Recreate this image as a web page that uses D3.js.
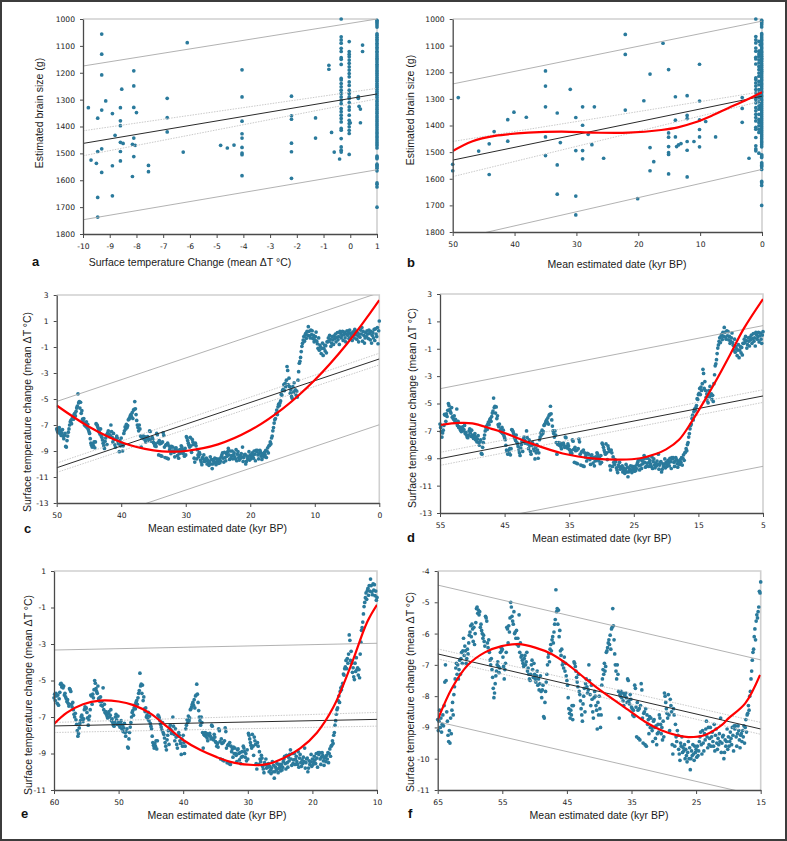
<!DOCTYPE html>
<html><head><meta charset="utf-8">
<script src="https://cdn.jsdelivr.net/npm/d3@7"></script>
<style>body{margin:0;background:#fff}svg{display:block}</style>
</head><body>
<svg id="chart" width="787" height="841"></svg>
<script>
// ---------------- DATA ----------------
// Panel a: scattered specimens [temperature change, brain size]
const brainByTemp = [
 [-9.8,1330],[-9.7,1525],[-9.45,1369],[-9.45,1493],[-9.5,1537],[-9.45,1664],[-9.45,1737],[-9.3,1056],[-9.3,1131],[-9.3,1208],
 [-9.3,1339],[-9.3,1483],[-9.3,1571],[-9.15,1305],[-8.9,1352],[-8.8,1433],[-8.9,1546],[-8.9,1658],[-8.55,1261],[-8.6,1330],
 [-8.6,1379],[-8.6,1397],[-8.6,1459],[-8.5,1463],[-8.6,1493],[-8.6,1528],[-8.1,1193],[-8.1,1249],[-8.1,1329],[-8.1,1443],
 [-8.1,1512],[-8.0,1348],[-8.15,1466],[-8.05,1470],[-8.15,1586],[-7.55,1545],[-7.55,1568],[-6.85,1295],[-6.85,1367],[-6.85,1420],
 [-6.25,1495],[-6.1,1088],[-4.85,1470],[-4.6,1480],[-4.35,1469],[-4.05,1189],[-4.05,1290],[-4.05,1380],[-4.05,1427],[-4.05,1443],
 [-4.05,1478],[-4.05,1499],[-4.05,1505],[-4.05,1583],[-2.2,1287],[-2.2,1360],[-2.2,1373],[-2.2,1462],[-2.2,1494],[-2.2,1593],
 [-1.3,1368],[-1.3,1443],[-0.8,1172],[-0.8,1187],[-0.7,1422],[-0.6,1495],[-0.4,1521],[0.0,1386],
 [0.3,1289],[0.3,1295],[0.33,1325],[0.38,1335],[0.38,1386],[0.46,1097],[0.46,1121]
];
// Panel b: scattered specimens [date kyr BP, brain size]
const brainByDate = [
 [50,1546],[50,1570],[49.1,1295],[45.8,1496],[44.1,1469],[44.1,1584],[43.3,1423],[41.1,1378],[41.1,1459],[40.1,1350],
 [38.1,1369],[35,1195],[35,1252],[35,1330],[35,1443],[35,1513],[33.1,1353],[33.1,1548],[33.1,1658],[32.6,1464],
 [31,1264],[30.1,1370],[30.1,1494],[30.1,1665],[30.1,1736],[29,1330],[29,1399],[29,1494],[29,1525],[28.1,1433],
 [27.5,1472],[27.1,1330],[25.6,1523],[22.1,1058],[22.1,1133],[22.1,1342],[20.1,1675],[19.1,1307],[18.1,1207],[18.1,1483],
 [18.1,1570],[17.5,1536],[16,1091],[15.1,1190],[15.1,1428],[15.1,1444],[15.1,1479],[15.1,1502],[15.1,1509],[15.1,1582],
 [14,1292],[14,1380],[14,1443],[13.8,1479],[13.5,1473],[13.1,1468],[12.1,1288],[12.1,1362],[12.1,1374],[12.1,1460],
 [12.1,1493],[12.1,1593],[11,1460],[10.1,1170],[10.1,1308],[10.1,1379],[10.1,1415],[10.1,1443],[10.1,1480],[9.1,1385],
 [7.5,1443],[3.2,1295],[3.2,1336],[3.2,1388],[2.1,1523],
 [0.3,1289],[0.3,1295],[0.3,1325],[0.3,1335],[0.3,1386],[0.3,1097],[0.3,1121]
];
// Modern specimen groups (shared by panels a and b)
const modernTemps = [-0.34, -0.04, 1];
const modernDates = [1.0, 0.5, 0.05];
const modernBrains = [
 [1000,1066,1078,1090,1109,1121,1144,1150,1169,1221,1227,1240,1252,1265,1277,1290,1302,1315,1333,1345,1358,1370,1383,1407,1414,1445,1476,1488,1495],
 [1084,1121,1131,1140,1153,1165,1178,1190,1203,1215,1234,1247,1265,1277,1290,1296,1311,1327,1339,1358,1377,1389,1401,1414,1426,1504],
 [1005,1010,1015,1022,1030,1055,1060,1068,1075,1082,1090,1097,1105,1112,1120,1126,1133,1140,1147,1153,1160,1168,1175,1182,1190,1196,
  1203,1210,1218,1225,1232,1240,1247,1254,1262,1270,1277,1285,1292,1300,1307,1315,1322,1330,1337,1345,1352,1360,1367,1375,1382,1390,
  1397,1405,1412,1420,1427,1435,1442,1450,1458,1465,1472,1480,1510,1515,1520,1540,1545,1550,1555,1565,1610,1615,1625,1700]
];

// Temperature record: 10 readings per kyr, from 65 kyr BP (oldest) toward present
const tempStartKyr = 65;
const tempByKyr = [
 [-8.75,-9.1,-8.8,-8.45,-9.0,-8.7,-9.15,-8.9,-8.6,-8.95],   // 65
 [-8.3,-7.55,-7.0,-7.5,-8.5,-8.8,-9.25,-9.45,-9.1,-9.5],    // 64
 [-8.7,-9.2,-8.45,-8.2,-8.6,-7.95,-7.7,-7.45,-7.1,-6.95],   // 63
 [-7.3,-7.0,-7.45,-7.15,-6.85,-7.3,-6.8,-6.6,-6.95,-6.55],  // 62
 [-6.15,-6.7,-6.4,-6.55,-6.95,-6.8,-6.5,-6.65,-6.3,-6.05],  // 61
 [-5.95,-5.75,-6.1,-5.7,-5.85,-6.25,-5.8,-6.35,-6.0,-5.65], // 60
 [-5.2,-5.15,-5.35,-5.25,-5.4,-5.3,-5.8,-5.7,-5.9,-6.0],    // 59
 [-6.15,-6.05,-6.25,-6.4,-5.45,-5.5,-5.6,-6.3,-6.45,-6.2],  // 58
 [-6.6,-6.85,-7.0,-6.8,-7.15,-7.4,-7.75,-8.05,-7.9,-7.6],   // 57
 [-7.35,-7.2,-7.0,-6.9,-7.05,-7.25,-7.1,-6.6,-6.45,-6.55],  // 56
 [-6.5,-6.75,-7.05,-7.45,-7.15,-6.95,-6.6,-5.8,-5.85,-6.3], // 55
 [-5.75,-5.95,-5.5,-5.0,-5.15,-5.45,-5.6,-5.7,-5.3,-6.0],   // 54
 [-5.95,-6.15,-5.9,-6.35,-6.15,-6.4,-5.4,-6.6,-6.3,-6.75],  // 53
 [-6.7,-6.85,-6.95,-7.05,-6.8,-6.7,-7.0,-6.9,-6.6,-7.2],    // 52
 [-7.1,-7.3,-7.45,-7.5,-7.3,-7.0,-6.85,-7.15,-7.4,-6.95],   // 51
 [-7.3,-7.45,-7.55,-7.35,-7.2,-7.65,-7.45,-7.8,-7.6,-7.35], // 50
 [-7.85,-8.05,-7.8,-7.65,-8.65,-8.7,-8.2,-7.85,-7.55,-7.3], // 49
 [-7.0,-6.75,-6.65,-6.9,-6.5,-6.35,-6.55,-6.2,-6.1,-6.3],   // 48
 [-5.95,-5.7,-5.55,-4.6,-5.3,-5.2,-5.7,-5.25,-6.1,-5.9],    // 47
 [-6.55,-6.7,-6.5,-7.0,-6.9,-7.1,-6.75,-7.2,-6.95,-7.35],   // 46
 [-7.5,-7.65,-8.05,-8.4,-8.55,-8.7,-8.45,-8.6,-8.3,-8.75],  // 45
 [-8.3,-6.9,-6.95,-7.05,-7.2,-7.4,-7.55,-7.7,-7.3,-7.85],   // 44
 [-7.95,-8.15,-8.4,-8.6,-8.8,-8.25,-8.0,-7.75,-8.5,-7.6],   // 43
 [-7.45,-7.7,-7.9,-7.8,-7.0,-7.5,-7.95,-8.3,-7.65,-8.1],    // 42
 [-8.5,-8.7,-8.05,-7.85,-8.0,-8.3,-8.45,-9.05,-8.2,-8.6],   // 41
 [-8.0,-8.4,-9.0,-8.6,-7.65,-7.45,-7.15,-7.3,-6.95,-7.2],   // 40
 [-7.05,-6.6,-6.55,-6.45,-6.3,-6.2,-6.35,-6.05,-6.5,-5.85], // 39
 [-5.8,-5.2,-5.75,-6.2,-6.65,-7.0,-7.2,-7.45,-7.0,-7.3],    // 38
 [-7.85,-8.7,-7.95,-8.0,-7.85,-8.05,-7.9,-8.15,-8.3,-7.95], // 37
 [-8.0,-7.9,-8.05,-8.2,-7.45,-7.5,-8.15,-8.25,-7.95,-8.1],  // 36
 [-8.35,-8.4,-8.6,-8.45,-8.65,-7.65,-7.75,-8.35,-9.3,-8.2], // 35
 [-8.45,-9.35,-8.4,-9.4,-8.3,-7.6,-7.8,-8.7,-9.5,-8.55],    // 34
 [-8.5,-9.55,-8.4,-9.6,-8.6,-8.9,-8.75,-9.2,-8.65,-9.0],    // 33
 [-8.7,-9.0,-9.1,-9.45,-8.8,-8.75,-9.0,-9.35,-8.95,-9.55],  // 32
 [-9.2,-8.9,-9.15,-8.6,-8.7,-8.9,-9.2,-9.0,-9.4,-8.8],      // 31
 [-9.3,-7.9,-8.0,-8.2,-8.4,-8.55,-8.7,-7.95,-8.6,-9.1],     // 30
 [-8.1,-8.3,-8.5,-9.55,-9.85,-8.4,-8.6,-9.6,-8.9,-9.3],     // 29
 [-9.45,-9.1,-9.25,-9.7,-9.85,-10.05,-9.5,-9.6,-9.3,-9.8],  // 28
 [-9.65,-9.75,-9.55,-10.0,-9.7,-9.9,-10.1,-9.8,-9.45,-10.0],// 27
 [-9.65,-10.35,-10.0,-9.75,-9.9,-9.55,-9.85,-10.05,-9.6,-9.8], // 26
 [-9.7,-9.95,-9.6,-9.9,-9.75,-9.45,-9.3,-9.15,-9.55,-9.85], // 25
 [-9.1,-9.5,-9.75,-9.2,-9.4,-9.05,-8.8,-9.3,-9.65,-9.0],    // 24
 [-9.55,-9.35,-9.0,-9.6,-9.3,-9.15,-9.45,-9.6,-8.9,-9.75],  // 23
 [-9.25,-9.05,-9.5,-9.7,-9.35,-9.55,-9.2,-9.45,-8.7,-9.8],  // 22
 [-9.5,-9.3,-9.25,-10.0,-9.8,-9.4,-9.6,-9.45,-9.05,-9.7],   // 21
 [-9.3,-9.6,-9.45,-9.15,-9.35,-9.55,-9.0,-9.25,-9.75,-8.95],// 20
 [-9.05,-8.95,-9.3,-9.6,-9.2,-8.95,-9.1,-9.4,-9.65,-9.25],  // 19
 [-9.2,-9.45,-9.1,-9.3,-8.95,-9.5,-9.0,-8.75,-9.15,-8.6],   // 18
 [-8.55,-8.3,-8.45,-8.0,-7.85,-7.45,-7.2,-6.85,-6.6,-6.5],  // 17
 [-6.1,-5.85,-6.2,-5.6,-5.4,-5.5,-5.3,-5.15,-4.65,-4.7],    // 16
 [-4.35,-4.25,-3.9,-4.35,-3.8,-4.05,-3.55,-2.5,-2.8,-3.9],  // 15
 [-3.4,-4.05,-4.55,-4.3,-4.8,-4.95,-4.05,-4.5,-3.75,-4.4],  // 14
 [-4.3,-4.7,-4.4,-4.85,-3.55,-2.9,-2.25,-2.1,-1.8,-1.35],   // 13
 [-0.95,-0.72,-0.46,-0.2,-0.55,-0.08,0.05,-0.33,0.2,-0.1],  // 12
 [0.56,0.2,-0.15,-0.3,0.3,-0.05,0.25,-0.35,-0.1,-0.6],      // 11
 [-0.45,-0.2,0.15,-0.55,-0.75,-1.1,-0.3,-1.25,-0.85,-1.0],  // 10
 [-1.5,-1.1,-0.7,-1.65,-1.1,-0.85,-1.3,-0.9,-1.45,-0.6],    // 9
 [-0.6,-0.3,-0.55,-0.1,-0.4,-0.95,-0.7,-0.2,-0.45,-0.8],    // 8
 [-0.15,-0.35,0.0,-0.6,-0.25,0.1,-0.45,-0.2,-0.8,0.2],      // 7
 [0.05,-0.3,-0.1,0.2,-0.5,-0.05,0.15,-0.3,-0.6,0.0],        // 6
 [0.25,-0.1,0.1,-0.35,0.3,0.05,-0.2,0.0,-0.5,0.15],         // 5
 [0.15,-0.3,0.35,-0.05,0.2,-0.4,0.1,-0.15,-0.6,0.0],        // 4
 [-0.25,0.3,0.0,0.5,-0.55,0.2,-0.1,-0.7,-0.3,0.1],          // 3
 [-0.2,0.25,0.0,-0.35,0.3,0.05,-0.45,0.2,-0.7,-0.1],        // 2
 [0.1,-0.3,0.35,-0.5,0.4,0.0,-0.2,0.5,-0.75,0.25]           // 1
];
const tempPresent = [0, 1.0];

// Fitted lines: [x, y] end points (fit, confidence band, prediction band)
const fitA = [[-10,1463],[1,1279]], ciUpA = [[-10,1416],[1,1258]], ciLoA = [[-10,1509],[1,1297]], piUpA = [[-10,1175],[1,1000]], piLoA = [[-10,1747],[1,1561]];
const fitB = [[50,1530],[0,1290]], ciUpB = [[50,1460],[0,1273]], ciLoB = [[50,1592],[0,1308]], piUpB = [[50,1244],[0,1008]], piLoB = [[50,1830],[0,1565]];
const fitC = [[50,-10.29],[0,-1.92]], ciUpC = [[50,-9.93],[0,-1.48]], ciLoC = [[50,-10.65],[0,-2.38]], piUpC = [[50,-5.19],[0,3.18]], piLoC = [[50,-15.35],[0,-6.98]];
const fitD = [[55,-9.03],[5,-4.45]], ciUpD = [[55,-8.57],[5,-4.0]], ciLoD = [[55,-9.52],[5,-4.92]], piUpD = [[55,-3.92],[5,0.69]], piLoD = [[55,-14.17],[5,-9.59]];
const fitE = [[60,-7.49],[10,-7.13]], ciUpE = [[60,-7.3],[10,-6.75]], ciLoE = [[60,-7.85],[10,-7.5]], piUpE = [[60,-3.33],[10,-2.96]], piLoE = [[60,-11.65],[10,-11.3]];
const fitF = [[65,-6.65],[15,-9.05]], ciUpF = [[65,-6.49],[15,-8.84]], ciLoF = [[65,-6.81],[15,-9.22]], piUpF = [[65,-4.45],[15,-6.84]], piLoF = [[65,-8.82],[15,-11.2]];

// Polynomial trend curves (red)
const curveB = [[50,1496],[46.9,1460],[43.2,1439],[37.8,1427],[32.4,1423],[27,1427],[21.6,1427],[16.3,1417],[13.6,1407],[10.9,1389],[8.2,1364],[5.5,1335],[2.8,1307],[0,1275]];
const curveC = [[50,-5.5],[45,-7.13],[40,-8.32],[35,-8.95],[32,-9.05],[30,-9.0],[25,-8.49],[20,-7.41],[15,-5.76],[10,-3.54],[5,-0.75],[0,2.6]];
const curveD = [[55,-6.57],[52,-6.42],[50,-6.45],[47,-6.85],[45,-7.15],[41,-7.9],[36,-8.65],[31,-9.03],[27,-9.1],[24,-9.0],[22,-8.75],[20,-8.35],[18,-7.65],[16,-6.3],[14,-4.75],[12,-3.1],[10,-1.35],[8,0.45],[5,2.63]];
const curveE = [[60,-7.38],[58,-6.76],[55.5,-6.3],[52.9,-6.1],[50,-6.15],[47.7,-6.35],[45.1,-6.8],[42.5,-7.53],[40,-8.26],[37.4,-8.8],[34.8,-9.2],[32.2,-9.5],[29.1,-9.63],[27,-9.58],[24.5,-9.26],[21.9,-8.72],[19.3,-7.86],[16.7,-6.43],[14.1,-4.24],[11.5,-1.78],[10,-0.85]];
const curveF = [[65,-8.76],[62.8,-7.75],[60.3,-7.0],[57.7,-6.6],[55.1,-6.4],[52.5,-6.34],[49.9,-6.45],[47.3,-6.66],[44.8,-7.0],[42.2,-7.43],[39.9,-7.8],[35.5,-8.44],[32.9,-8.82],[30.3,-9.1],[27.8,-9.26],[26.2,-9.31],[23.6,-9.24],[21,-8.92],[20,-8.71],[17.4,-8.23],[15.1,-7.32]];

// Tick labels
const brainTicks = [1000,1100,1200,1300,1400,1500,1600,1700,1800];
const tempTicksA = [-10,-9,-8,-7,-6,-5,-4,-3,-2,-1,0,1];
const dateTicksB = [50,40,30,20,10,0];
const yTicksCD = [3,1,-1,-3,-5,-7,-9,-11,-13];
const dateTicksC = [50,40,30,20,10,0];
const dateTicksD = [55,45,35,25,15,5];
const yTicksE = [1,-1,-3,-5,-7,-9,-11];
const dateTicksE = [60,50,40,30,20,10];
const yTicksF = [-4,-5,-6,-7,-8,-9,-10,-11];
const dateTicksF = [65,55,45,35,25,15];

const labelBrain = "Estimated brain size (g)";
const labelTempA = "Surface temperature Change (mean \u0394T \u00B0C)";
const labelDate = "Mean estimated date (kyr BP)";
const labelTempY = "Surface temperature change (mean \u0394T \u00B0C)";

// ---------------- BUILD ----------------
const tempSeries = [];
tempByKyr.forEach((vals, i) => {
  const k = tempStartKyr - i;
  vals.forEach((v, j) => tempSeries.push([k - j / vals.length, v]));
});
tempSeries.push(tempPresent);

const modernA = [], modernB = [];
modernBrains.forEach((arr, i) => arr.forEach(b => { modernA.push([modernTemps[i], b]); modernB.push([modernDates[i], b]); }));

const svg = d3.select('#chart');
svg.append('rect').attr('x',1).attr('y',1).attr('width',785).attr('height',839)
  .attr('fill','#fff').attr('stroke','#3c3c3c').attr('stroke-width',2);

const DOT = '#2a7a9c';
const TICKFONT = "'DejaVu Sans', Verdana, sans-serif";
const TITLEFONT = "'Liberation Sans', Arial, sans-serif";

function drawPanel(o) {
  const x = d3.scaleLinear().domain(o.xDomain).range([o.left, o.right]);
  const y = d3.scaleLinear().domain(o.yDomain).range([o.bottom, o.top]);
  const g = svg.append('g');
  const clipId = 'clip-' + o.id;
  g.append('clipPath').attr('id', clipId).append('rect')
    .attr('x', o.left).attr('y', o.top).attr('width', o.right - o.left).attr('height', o.bottom - o.top);
  g.append('path').attr('d', `M${o.left},${o.top}H${o.right}V${o.bottom}`)
    .attr('fill','none').attr('stroke','#d0d0d0').attr('stroke-width',1.6);

  g.append('g').selectAll('circle').data(o.points).join('circle')
    .attr('cx', d => x(d[0])).attr('cy', d => y(d[1])).attr('r', 1.85).attr('fill', DOT);

  const line = d3.line().x(d => x(d[0])).y(d => y(d[1]));
  const lg = g.append('g').attr('clip-path', `url(#${clipId})`);
  o.pi.forEach(p => lg.append('path').attr('d', line(p)).attr('fill','none').attr('stroke','#a9a9a9').attr('stroke-width',0.9));
  o.ci.forEach(p => lg.append('path').attr('d', line(p)).attr('fill','none').attr('stroke','#c4c4c4').attr('stroke-width',0.9).attr('stroke-dasharray','1.5,1.2'));
  lg.append('path').attr('d', line(o.fit)).attr('fill','none').attr('stroke','#2a2a2a').attr('stroke-width',1);
  if (o.curve) {
    const cl = d3.line().x(d => x(d[0])).y(d => y(d[1])).curve(d3.curveCatmullRom.alpha(0.5));
    lg.append('path').attr('d', cl(o.curve)).attr('fill','none').attr('stroke','#ff0000').attr('stroke-width',2.2);
  }

  const ya = g.append('g').attr('transform', `translate(${o.left},0)`)
    .call(d3.axisLeft(y).tickValues(o.yTicks).tickSize(3).tickSizeOuter(0).tickPadding(5).tickFormat(d => String(d)));
  const xa = g.append('g').attr('transform', `translate(0,${o.bottom})`)
    .call(d3.axisBottom(x).tickValues(o.xTicks).tickSize(4).tickSizeOuter(0).tickPadding(6).tickFormat(d => String(d)));
  [ya, xa].forEach(a => {
    a.select('.domain').attr('stroke','#4a4a4a').attr('stroke-width',1.3);
    a.selectAll('.tick line').attr('stroke','#4a4a4a').attr('stroke-width',1);
    a.selectAll('.tick text').attr('fill','#222').style('font-family', TICKFONT).style('font-size','7.6px');
  });

  g.append('text').attr('transform', `translate(${o.yTitle[0]},${o.yTitle[1]}) rotate(-90)`)
    .attr('text-anchor','middle').attr('dy','0.35em').attr('fill','#1a1a1a')
    .style('font-family', TITLEFONT).style('font-size','10.5px').text(o.yLabel);
  g.append('text').attr('x', o.xTitle[0]).attr('y', o.xTitle[1]).attr('text-anchor','middle').attr('fill','#1a1a1a')
    .style('font-family', TITLEFONT).style('font-size','10.5px').text(o.xLabel);
  g.append('text').attr('x', o.letter[0]).attr('y', o.letter[1]).attr('fill','#111')
    .style('font-family', TITLEFONT).style('font-weight','bold').style('font-size','13px').text(o.id);
}

const inRange = (lo, hi) => tempSeries.filter(d => d[0] >= lo - 1e-9 && d[0] <= hi + 1e-9);

drawPanel({id:'a', left:83, right:377, top:19, bottom:234, xDomain:[-10,1], yDomain:[1800,1000],
  xTicks:tempTicksA, yTicks:brainTicks, points:brainByTemp.concat(modernA),
  fit:fitA, ci:[ciUpA,ciLoA], pi:[piUpA,piLoA], curve:null,
  yLabel:labelBrain, xLabel:labelTempA, yTitle:[39,113], xTitle:[190,266], letter:[32,266]});
drawPanel({id:'b', left:452.7, right:762, top:19, bottom:232, xDomain:[50,0], yDomain:[1800,1000],
  xTicks:dateTicksB, yTicks:brainTicks, points:brainByDate.concat(modernB),
  fit:fitB, ci:[ciUpB,ciLoB], pi:[piUpB,piLoB], curve:curveB,
  yLabel:labelBrain, xLabel:labelDate, yTitle:[410,110], xTitle:[617,268], letter:[407,267]});
drawPanel({id:'c', left:56.7, right:379.3, top:295, bottom:503, xDomain:[50,0], yDomain:[-13,3],
  xTicks:dateTicksC, yTicks:yTicksCD, points:inRange(0,50),
  fit:fitC, ci:[ciUpC,ciLoC], pi:[piUpC,piLoC], curve:curveC,
  yLabel:labelTempY, xLabel:labelDate, yTitle:[27,412], xTitle:[217.5,532], letter:[24,533]});
drawPanel({id:'d', left:440, right:763, top:294, bottom:513, xDomain:[55,5], yDomain:[-13,3],
  xTicks:dateTicksD, yTicks:yTicksCD, points:inRange(5,55),
  fit:fitD, ci:[ciUpD,ciLoD], pi:[piUpD,piLoD], curve:curveD,
  yLabel:labelTempY, xLabel:labelDate, yTitle:[412,408], xTitle:[601.7,541.5], letter:[407,542]});
drawPanel({id:'e', left:54, right:377, top:571, bottom:790, xDomain:[60,10], yDomain:[-11,1],
  xTicks:dateTicksE, yTicks:yTicksE, points:inRange(10,60),
  fit:fitE, ci:[ciUpE,ciLoE], pi:[piUpE,piLoE], curve:curveE,
  yLabel:labelTempY, xLabel:labelDate, yTitle:[28,695], xTitle:[217,818.5], letter:[21,818]});
drawPanel({id:'f', left:437.7, right:760.7, top:571, bottom:790, xDomain:[65,15], yDomain:[-11,-4],
  xTicks:dateTicksF, yTicks:yTicksF, points:inRange(15,65),
  fit:fitF, ci:[ciUpF,ciLoF], pi:[piUpF,piLoF], curve:curveF,
  yLabel:labelTempY, xLabel:labelDate, yTitle:[410,692], xTitle:[599,818.5], letter:[408,818]});
</script>
</body></html>
